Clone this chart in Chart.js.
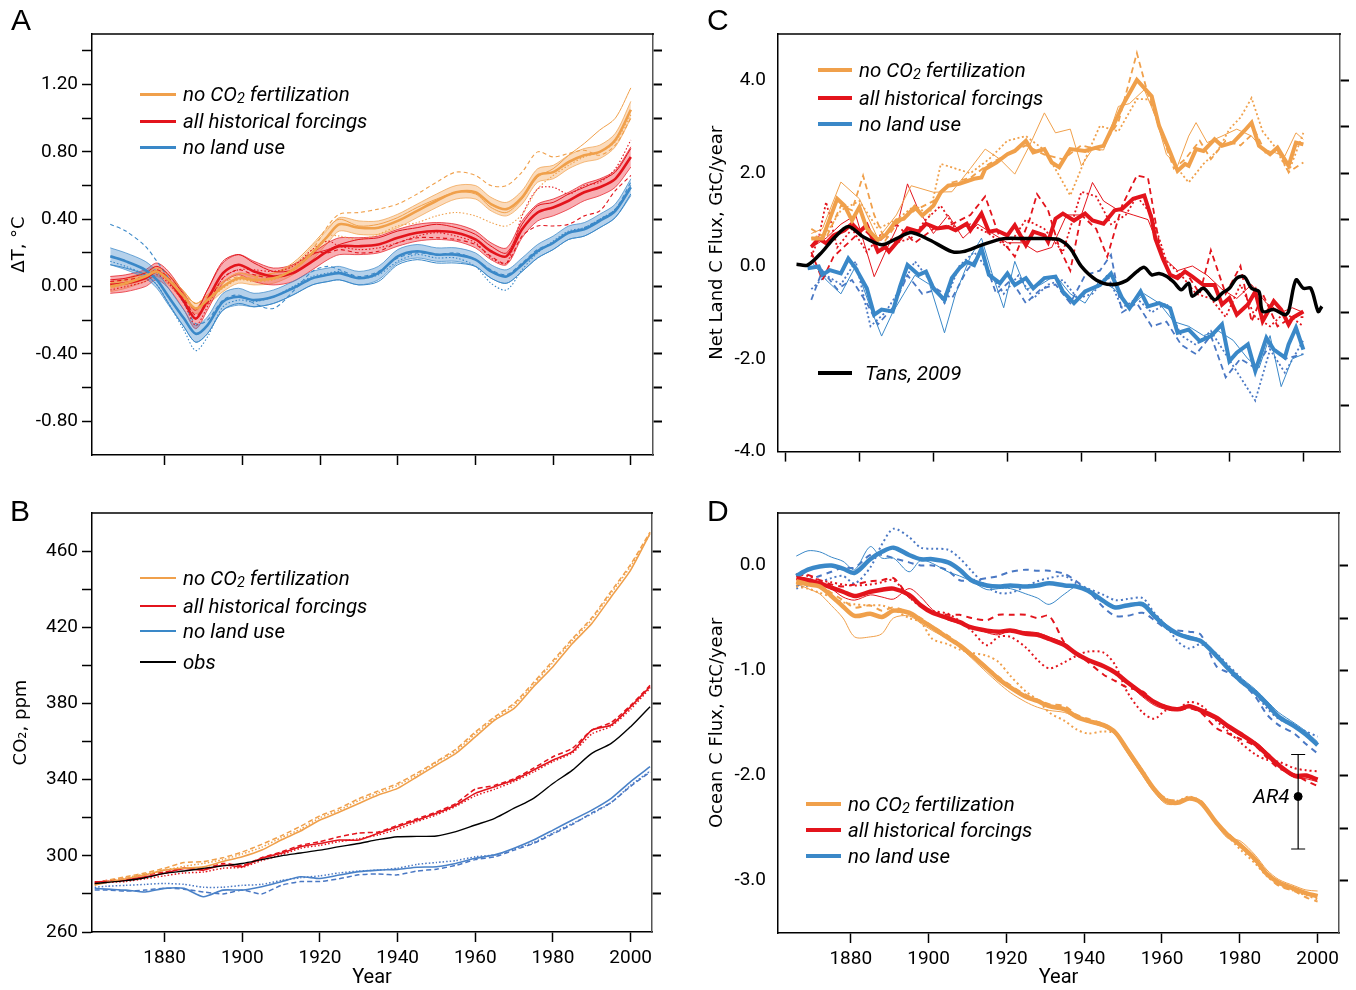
<!DOCTYPE html>
<html>
<head>
<meta charset="utf-8">
<script src="https://cdn.jsdelivr.net/npm/chart.js@4.4.1/dist/chart.umd.min.js"></script>
<style>
  body { margin: 0; background: #fff; width: 1356px; height: 990px; position: relative; overflow: hidden; font-family: Roboto, sans-serif; }
  canvas { position: absolute; }
  .pl { position: absolute; font: 30px/1 'Liberation Sans', Arial, sans-serif; color: #000; }
  .leg { position: absolute; display: flex; align-items: center; height: 24px; font: italic 20.5px Roboto, sans-serif; color: #000; white-space: nowrap; }
  .leg i { display: inline-block; width: 36px; margin-right: 7px; }
  .leg sub { font-size: 70%; vertical-align: -0.15em; line-height: 0; }
</style>
</head>
<body>
<canvas id="chartA" width="678" height="475" style="left:0;top:0"></canvas>
<canvas id="chartB" width="678" height="510" style="left:0;top:480px"></canvas>
<canvas id="chartC" width="666" height="475" style="left:690px;top:0"></canvas>
<canvas id="chartD" width="666" height="510" style="left:690px;top:480px"></canvas>

<div class="pl" style="left:11px;top:5px">A</div>
<div class="pl" style="left:10px;top:496px">B</div>
<div class="pl" style="left:707px;top:5px">C</div>
<div class="pl" style="left:707px;top:496px">D</div>

<div class="leg" style="left:140px;top:82px"><i style="height:3px;background:#F0A04B"></i><span>no CO<sub>2</sub> fertilization</span></div>
<div class="leg" style="left:140px;top:109px"><i style="height:3px;background:#E3141C"></i><span>all historical forcings</span></div>
<div class="leg" style="left:140px;top:135px"><i style="height:3px;background:#3A88C8"></i><span>no land use</span></div>

<div class="leg" style="left:140px;top:566px"><i style="height:2px;background:#F0A04B"></i><span>no CO<sub>2</sub> fertilization</span></div>
<div class="leg" style="left:140px;top:594px"><i style="height:2px;background:#E3141C"></i><span>all historical forcings</span></div>
<div class="leg" style="left:140px;top:619px"><i style="height:2px;background:#3A88C8"></i><span>no land use</span></div>
<div class="leg" style="left:140px;top:650px"><i style="height:2px;background:#000"></i><span>obs</span></div>

<div class="leg" style="left:818px;top:58px"><i style="height:4px;width:34px;background:#F0A04B"></i><span>no CO<sub>2</sub> fertilization</span></div>
<div class="leg" style="left:818px;top:86px"><i style="height:4px;width:34px;background:#E3141C"></i><span>all historical forcings</span></div>
<div class="leg" style="left:818px;top:112px"><i style="height:4px;width:34px;background:#3A88C8"></i><span>no land use</span></div>
<div class="leg" style="left:818px;top:361px"><i style="height:4px;width:34px;margin-right:13px;background:#000"></i><span>Tans, 2009</span></div>

<div class="leg" style="left:806px;top:792px"><i style="height:4px;width:35px;background:#F0A04B"></i><span>no CO<sub>2</sub> fertilization</span></div>
<div class="leg" style="left:806px;top:818px"><i style="height:4px;width:35px;background:#E3141C"></i><span>all historical forcings</span></div>
<div class="leg" style="left:806px;top:844px"><i style="height:4px;width:35px;background:#3A88C8"></i><span>no land use</span></div>
<div class="leg" style="left:1253px;top:784px"><span>AR4</span></div>

<script>
// ---------- colours ----------
const ORANGE = '#F0A04B', RED = '#E3141C', BLUE = '#3A88C8', BLUE2 = '#4A78C4', BLACK = '#000';

// ---------- panel A: temperature change ----------
const yrsA = [1866,1870,1875,1878,1881,1885,1888,1891,1895,1899,1903,1908,1913,1918,1922,1925,1930,1935,1940,1945,1950,1955,1960,1964,1968,1972,1976,1980,1984,1988,1992,1996,2000];
const orangeMainA = [0.00,0.02,0.06,0.09,0.04,-0.06,-0.13,-0.08,0.00,0.05,0.04,0.05,0.10,0.20,0.30,0.37,0.35,0.35,0.39,0.45,0.51,0.56,0.56,0.49,0.46,0.53,0.66,0.68,0.74,0.78,0.80,0.87,1.05];
const orangeSpreadA = [0.03,0.03,0.03,0.03,0.03,0.03,0.03,0.03,0.03,0.03,0.03,0.03,0.03,0.04,0.04,0.04,0.04,0.04,0.04,0.04,0.04,0.04,0.04,0.04,0.04,0.04,0.04,0.04,0.04,0.04,0.04,0.04,0.05];
const orangeThinA = [0.02,0.04,0.08,0.11,0.07,-0.03,-0.10,-0.05,0.03,0.08,0.06,0.08,0.14,0.25,0.35,0.40,0.36,0.37,0.41,0.47,0.52,0.56,0.55,0.47,0.44,0.52,0.65,0.70,0.78,0.85,0.93,1.00,1.18];
const orangeDashA = [0.02,0.03,0.07,0.10,0.05,-0.04,-0.10,-0.06,0.02,0.06,0.05,0.08,0.12,0.22,0.36,0.43,0.44,0.46,0.49,0.55,0.62,0.68,0.66,0.60,0.60,0.68,0.80,0.77,0.79,0.81,0.78,0.84,1.00];
const orangeDotA = [-0.01,0.01,0.05,0.08,0.03,-0.07,-0.14,-0.09,-0.01,0.04,0.03,0.04,0.09,0.20,0.30,0.30,0.28,0.31,0.36,0.38,0.42,0.44,0.42,0.38,0.36,0.43,0.58,0.66,0.72,0.77,0.80,0.86,1.02];
const redMainA = [0.01,0.02,0.05,0.09,0.04,-0.09,-0.19,-0.08,0.08,0.13,0.09,0.06,0.08,0.15,0.21,0.24,0.24,0.25,0.29,0.32,0.33,0.32,0.28,0.21,0.18,0.34,0.44,0.47,0.51,0.56,0.59,0.64,0.77];
const redSpreadA = [0.05,0.05,0.05,0.05,0.05,0.05,0.06,0.06,0.06,0.06,0.06,0.05,0.05,0.05,0.05,0.05,0.05,0.05,0.05,0.05,0.05,0.05,0.05,0.05,0.05,0.05,0.05,0.05,0.05,0.05,0.05,0.05,0.06];
const redThinA = [0.04,0.05,0.08,0.12,0.07,-0.05,-0.14,-0.02,0.15,0.19,0.14,0.09,0.10,0.19,0.22,0.25,0.28,0.29,0.33,0.35,0.37,0.35,0.31,0.24,0.20,0.37,0.48,0.50,0.55,0.59,0.63,0.68,0.82];
const redDashA = [0.03,0.04,0.06,0.10,0.05,-0.07,-0.17,-0.10,0.05,0.10,0.07,0.05,0.10,0.20,0.20,0.22,0.20,0.21,0.26,0.29,0.29,0.28,0.25,0.18,0.14,0.30,0.36,0.36,0.37,0.42,0.45,0.57,0.66];
const redDotA = [-0.02,0.00,0.03,0.07,0.02,-0.10,-0.23,-0.12,0.05,0.10,0.10,0.09,0.12,0.22,0.27,0.24,0.22,0.23,0.26,0.30,0.32,0.30,0.26,0.17,0.14,0.42,0.58,0.59,0.55,0.60,0.62,0.70,0.87];
const blueMainA = [0.18,0.15,0.10,0.04,-0.06,-0.19,-0.28,-0.23,-0.09,-0.06,-0.08,-0.06,-0.01,0.05,0.07,0.08,0.05,0.08,0.18,0.21,0.19,0.19,0.16,0.09,0.06,0.13,0.21,0.26,0.32,0.34,0.39,0.45,0.59];
const blueSpreadA = [0.05,0.05,0.05,0.05,0.05,0.05,0.05,0.05,0.05,0.05,0.04,0.04,0.04,0.04,0.04,0.04,0.04,0.04,0.04,0.04,0.04,0.04,0.04,0.04,0.04,0.04,0.04,0.04,0.04,0.04,0.04,0.04,0.05];
const blueThinA = [0.13,0.11,0.07,0.01,-0.10,-0.24,-0.33,-0.28,-0.14,-0.10,-0.12,-0.10,-0.05,0.01,0.03,0.04,0.01,0.03,0.13,0.16,0.14,0.14,0.12,0.05,0.02,0.09,0.17,0.22,0.28,0.30,0.35,0.41,0.55];
const blueDashA = [0.37,0.33,0.24,0.15,0.05,-0.10,-0.22,-0.20,-0.08,-0.05,-0.10,-0.13,-0.03,0.09,0.12,0.10,0.06,0.09,0.17,0.20,0.19,0.20,0.16,0.10,0.07,0.14,0.22,0.26,0.32,0.35,0.40,0.46,0.62];
const blueDotA = [0.15,0.12,0.07,0.01,-0.10,-0.26,-0.38,-0.30,-0.12,-0.08,-0.09,-0.06,0.00,0.06,0.08,0.09,0.05,0.07,0.15,0.19,0.17,0.17,0.12,0.02,-0.02,0.10,0.20,0.27,0.33,0.35,0.40,0.46,0.60];
const yTicksA = [-0.8,-0.6,-0.4,-0.2,0,0.2,0.4,0.6,0.8,1.0,1.2,1.4];
const yLabelsA = [-0.8,-0.4,0,0.4,0.8,1.2];

// ---------- panel B: CO2 ----------
const yrsB = [1862,1865,1870,1875,1880,1885,1890,1895,1900,1905,1910,1915,1920,1925,1930,1935,1940,1945,1950,1955,1960,1965,1970,1975,1980,1985,1990,1995,2000,2005];
const obsB = [285.5,286,287,288.5,290.8,292,293.4,294.7,296,298,300,301.5,303,304.8,306.5,308.5,310,310.2,310.4,312.7,316.2,319.7,325,330.2,338,345,353.8,359,367.8,378.3];
const orangeB = [284.7,286,288,290,292.5,293.5,294.2,297,299.5,303,308.3,313,318.8,323,327.5,331.9,335.4,341.5,347.7,353.8,362.5,371.3,377.4,388.8,399.3,411.5,422,436,450,469.3];
const orangeDashB = [285,287,289,291,293.5,296.5,297,299,302,306,310.5,315.5,321,325,330,334,338,343.5,349.5,356,365,373,380,391,402.5,414,425,439,453,470];
const orangeDotB = [284.5,286.5,288.5,290.5,292.5,294.5,296,298,301,304.5,309.5,314,320,324,329,333,337,342.5,349,355,364,372,379,390,401.5,413,424,438,452,469];
const redB = [286.4,286.5,287.3,289,290.8,293.4,292.5,295.2,294.3,298.7,301.3,304.8,306.5,308.3,308.3,311.8,315.3,318.8,322.3,326.7,332.8,336.3,339.8,345,350.3,354.7,366,368.7,378.3,388.8];
const redDashB = [286,287,288,290,291.5,293.5,293,296,295,299,302,305.5,307.5,310,312,312.5,316,319.5,323,327.5,335,337,340.5,346,352,356.5,366,370,379,389.5];
const redDotB = [285.5,286,286.5,288,289.5,291,291.5,293.5,294,297.5,300.5,304,305.5,307.5,309,311,314,318,321.5,326,331.5,335,339,344,349.5,354,364,368,377,388];
const blueB = [282.9,282.5,282,281,282.9,282.9,278.5,282,282,283.8,286.4,289,288.1,289.9,291.7,292.5,292.9,294,294.3,296,298.7,300.5,304,308.3,313.5,318.8,324,330.2,339,346.8];
const blueDashB = [282,282,281.5,282,283,282.5,281,280,282,280,284.5,286.5,286.5,288,290,290.5,290,292,293,295,298,299.5,303,306.5,311.5,316.5,322.5,328,336.5,344];
const blueDotB = [283.5,284,284.5,285,285.5,285,283.5,283.5,284.5,285,287,288.5,289.5,291,292,292.5,293.5,295.5,296.5,297.5,299.5,300.5,303.5,307,312,317,322,328,337,344.5];
const yTicksB = [260,280,300,320,340,360,380,400,420,440,460];
const yLabelsB = [260,300,340,380,420,460];

// ---------- panel C: net land flux ----------
const orangeYrsC = [1867,1870,1872,1874,1876,1878,1880,1882,1885,1887,1890,1892,1895,1897,1900,1902,1904,1907,1911,1913,1914,1917,1920,1922,1925,1927,1930,1932,1934,1937,1941,1944,1946,1949,1951,1955,1959,1961,1964,1966,1968,1969,1971,1973,1976,1978,1981,1984,1986,1988,1991,1993,1996,1998,2000];
const orangeMainC = [0.59,0.59,1.02,1.45,1.30,0.98,1.27,0.81,0.56,0.66,0.98,1.02,1.27,1.09,1.30,1.59,1.73,1.77,1.88,1.91,2.09,2.23,2.41,2.48,2.70,2.45,2.52,2.23,2.13,2.52,2.48,2.55,2.59,3.09,3.44,4.01,3.66,3.02,2.45,2.05,2.20,2.16,2.52,2.48,2.73,2.59,2.66,2.91,3.09,2.59,2.41,2.55,2.16,2.66,2.62];
const redYrsC = [1867,1869,1871,1873,1876,1878,1880,1882,1885,1887,1888,1891,1893,1896,1898,1901,1904,1906,1909,1910,1913,1915,1917,1920,1922,1925,1927,1930,1931,1933,1935,1938,1941,1943,1946,1949,1951,1954,1957,1959,1960,1962,1964,1966,1968,1970,1973,1976,1978,1980,1982,1985,1987,1989,1992,1994,1996,1997,2000];
const redMainC = [0.41,0.59,0.49,0.66,0.77,0.91,0.74,0.88,0.31,0.41,0.31,0.59,0.81,0.74,0.91,0.81,0.84,0.77,0.91,0.77,1.13,0.74,0.77,0.66,0.88,0.45,0.74,0.66,0.52,1.02,1.13,0.98,1.13,0.98,0.91,1.20,1.23,1.45,1.52,1.02,0.59,0.16,-0.19,-0.26,-0.12,-0.23,-0.41,-0.41,-0.83,-0.69,-1.05,-0.83,-0.55,-1.19,-0.76,-0.94,-1.26,-1.12,-0.98];
const blueYrsC = [1866,1869,1870,1872,1875,1877,1879,1882,1884,1886,1889,1891,1893,1896,1898,1900,1903,1905,1907,1909,1911,1913,1915,1918,1920,1922,1925,1927,1930,1933,1935,1938,1941,1945,1948,1951,1953,1956,1958,1961,1964,1966,1969,1972,1975,1978,1980,1982,1985,1987,1990,1992,1995,1996,1998,2000];
const blueMainC = [-0.05,-0.01,-0.19,-0.09,-0.16,0.16,-0.05,-0.48,-1.05,-0.94,-0.98,-0.44,0.02,-0.19,-0.12,-0.48,-0.73,-0.26,-0.05,0.09,0.02,0.38,-0.19,-0.37,-0.16,-0.41,-0.26,-0.48,-0.26,-0.23,-0.55,-0.80,-0.55,-0.41,-0.16,-0.69,-0.91,-0.55,-0.87,-0.80,-0.91,-1.44,-1.37,-1.62,-1.51,-1.26,-2.05,-1.87,-1.69,-2.26,-1.55,-1.80,-1.97,-1.69,-1.33,-1.80];
const tansYrs = [1863,1866,1870,1873,1877,1881,1886,1890,1894,1899,1905,1908,1913,1919,1925,1931,1934,1937,1940,1944,1948,1952,1955,1957,1959,1961,1963,1965,1967,1969,1970,1973,1976,1978,1980,1982,1984,1986,1988,1989,1992,1995,1996,1998,2000,2002,2004,2005];
const tansC = [0.04,0.02,0.31,0.59,0.85,0.63,0.46,0.59,0.72,0.56,0.31,0.31,0.45,0.59,0.59,0.59,0.57,0.38,-0.01,-0.30,-0.40,-0.32,-0.12,-0.03,-0.19,-0.16,-0.22,-0.35,-0.51,-0.37,-0.65,-0.48,-0.73,-0.59,-0.48,-0.26,-0.23,-0.48,-0.55,-0.98,-0.94,-1.05,-0.98,-0.30,-0.48,-0.48,-0.98,-0.87];
const orangeThinYrsC = [1867,1870,1875,1880,1885,1890,1894,1900,1905,1910,1914,1918,1922,1926,1930,1933,1937,1940,1943,1946,1950,1953,1957,1960,1963,1966,1969,1971,1974,1978,1982,1986,1989,1992,1995,1998,2000];
const orangeThinC = [0.70,0.80,1.81,1.45,0.59,1.10,1.73,1.59,1.60,2.10,2.52,2.30,1.98,2.60,3.30,2.87,2.95,2.16,2.52,2.50,3.44,3.50,3.80,3.23,2.40,2.16,2.80,3.09,2.66,2.80,2.95,2.80,2.52,2.45,2.37,2.87,2.73];
const orangeDashYrsC = [1867,1871,1875,1878,1881,1884,1887,1890,1895,1900,1905,1910,1915,1920,1925,1930,1935,1940,1945,1950,1955,1958,1961,1965,1968,1972,1975,1979,1983,1987,1990,1993,1996,2000];
const orangeDashC = [0.80,0.60,1.30,1.20,1.95,1.10,0.55,0.90,1.20,1.40,1.80,1.90,2.20,2.40,2.60,2.40,2.30,2.60,2.50,3.10,4.59,3.70,3.00,2.10,2.30,2.70,2.30,2.70,2.60,2.90,2.40,2.50,2.02,2.23];
const orangeDotYrsC = [1867,1871,1875,1880,1885,1890,1895,1899,1902,1906,1910,1915,1920,1925,1930,1934,1937,1941,1945,1950,1955,1959,1962,1965,1969,1973,1977,1980,1983,1986,1989,1992,1996,2000];
const orangeDotC = [0.60,0.70,1.20,1.40,0.80,1.00,1.30,1.10,2.20,2.10,2.00,2.30,2.70,2.80,2.50,1.95,1.52,2.30,3.02,2.90,3.60,3.59,2.80,2.20,1.80,2.20,2.50,2.95,3.20,3.62,2.90,2.60,2.02,2.87];
const redThinYrsC = [1867,1871,1875,1879,1884,1887,1890,1893,1896,1900,1904,1908,1912,1916,1920,1924,1928,1932,1936,1940,1943,1946,1950,1954,1958,1962,1966,1970,1974,1978,1982,1986,1990,1994,1997,2000];
const redThinC = [0.40,0.60,0.90,1.10,-0.23,0.30,0.80,1.77,1.20,0.70,1.10,0.60,0.90,0.70,0.50,0.50,0.30,0.40,1.10,1.10,1.80,1.40,1.20,1.10,1.00,0.20,-0.10,0.00,-0.20,-0.50,-0.70,-0.40,-0.80,-1.00,-0.90,-1.00];
const redDashYrsC = [1867,1870,1873,1877,1881,1885,1890,1895,1900,1905,1910,1914,1918,1922,1926,1928,1931,1934,1937,1940,1944,1947,1951,1955,1958,1961,1964,1968,1972,1975,1979,1983,1986,1989,1993,1997,2000];
const redDashC = [0.30,-0.30,0.20,0.50,0.80,0.50,0.90,0.50,0.80,0.90,1.10,1.50,0.60,0.20,1.00,1.55,1.20,0.40,-0.10,1.10,0.80,0.20,1.30,1.95,1.90,0.50,-0.30,-0.10,-0.60,0.34,-0.60,0.00,-1.20,-0.60,-1.30,-1.10,-1.10];
const redDotYrsC = [1867,1869,1871,1874,1878,1882,1886,1890,1894,1898,1902,1906,1910,1915,1920,1925,1930,1935,1940,1944,1948,1952,1955,1959,1963,1967,1971,1975,1979,1983,1987,1991,1995,2000];
const redDotC = [0.20,0.60,1.38,0.40,0.80,0.30,0.70,0.50,0.60,1.00,1.30,0.80,0.90,0.70,0.40,1.00,0.80,0.30,1.60,1.50,0.90,1.10,1.50,1.10,0.10,-0.20,-0.60,-0.70,-1.10,-0.40,-1.10,-1.30,-1.00,-1.30];
const blueThinYrsC = [1867,1871,1875,1879,1883,1886,1889,1892,1895,1899,1903,1906,1910,1913,1916,1919,1922,1925,1929,1933,1937,1941,1945,1949,1953,1957,1961,1965,1969,1973,1977,1981,1985,1988,1991,1994,1997,2000];
const blueThinC = [0.10,-0.30,-0.60,0.00,-0.90,-1.51,-1.00,-0.60,-0.20,-0.40,-1.44,-0.60,0.20,0.60,-0.20,-0.90,0.10,-0.50,-0.40,-0.20,-0.60,-0.80,-0.30,-0.50,-0.90,-0.60,-0.80,-1.20,-1.30,-1.50,-1.40,-1.60,-2.00,-2.20,-1.50,-2.60,-2.00,-1.90];
const blueDashYrsC = [1867,1870,1874,1878,1882,1885,1889,1893,1897,1901,1905,1909,1913,1917,1921,1925,1929,1933,1937,1941,1945,1948,1951,1955,1959,1963,1967,1971,1975,1979,1983,1987,1991,1995,2000];
const blueDashC = [-0.73,-0.10,-0.50,-0.30,-0.80,-1.26,-0.90,-0.20,-0.60,-0.50,-0.70,-0.10,0.30,-0.60,-0.30,-0.80,-0.50,-0.40,-0.80,-0.20,-0.10,0.24,-1.00,-0.80,-1.30,-1.20,-1.70,-1.90,-1.50,-2.40,-2.00,-2.20,-1.70,-2.00,-1.90];
const blueDotYrsC = [1867,1871,1875,1879,1883,1887,1891,1895,1899,1903,1907,1911,1915,1919,1923,1927,1931,1935,1939,1943,1947,1951,1955,1959,1963,1967,1971,1975,1979,1983,1987,1991,1995,2000];
const blueDotC = [-0.50,-0.20,-0.40,0.10,-1.30,-1.00,-0.50,0.10,-0.30,-0.80,0.00,0.30,-0.10,-0.60,-0.20,-0.70,-0.40,-0.30,-0.70,-0.60,-0.20,-0.90,-0.70,-1.00,-0.80,-1.50,-1.70,-1.40,-1.90,-2.40,-2.90,-1.80,-2.30,-1.60];
const yTicksRightC = [-3,-2,-1,0,1,2,3,4];
const yLabelsC = [-4,-2,0,2,4];

// ---------- panel D: ocean flux ----------
const yrsD = [1866,1869,1872,1875,1878,1881,1885,1888,1891,1895,1898,1901,1905,1908,1911,1915,1918,1921,1925,1928,1931,1935,1938,1941,1945,1948,1951,1955,1958,1961,1964,1967,1970,1974,1977,1980,1984,1987,1990,1994,1997,2000];
const orangeMainD = [-0.15,-0.18,-0.20,-0.29,-0.39,-0.48,-0.46,-0.49,-0.43,-0.45,-0.52,-0.59,-0.69,-0.76,-0.85,-0.98,-1.08,-1.16,-1.25,-1.29,-1.34,-1.37,-1.44,-1.48,-1.52,-1.59,-1.75,-1.97,-2.13,-2.24,-2.26,-2.22,-2.26,-2.45,-2.57,-2.66,-2.80,-2.94,-3.02,-3.08,-3.12,-3.15];
const orangeThinD = [-0.17,-0.22,-0.27,-0.38,-0.50,-0.68,-0.68,-0.65,-0.50,-0.48,-0.55,-0.62,-0.70,-0.78,-0.88,-1.02,-1.12,-1.21,-1.30,-1.35,-1.38,-1.40,-1.45,-1.49,-1.54,-1.61,-1.78,-2.00,-2.16,-2.27,-2.27,-2.22,-2.27,-2.47,-2.60,-2.62,-2.76,-2.90,-2.99,-3.05,-3.09,-3.10];
const orangeDashD = [-0.18,-0.17,-0.19,-0.26,-0.33,-0.40,-0.38,-0.43,-0.40,-0.45,-0.50,-0.58,-0.67,-0.75,-0.84,-0.97,-1.06,-1.14,-1.23,-1.28,-1.32,-1.34,-1.42,-1.46,-1.51,-1.58,-1.74,-1.96,-2.12,-2.22,-2.24,-2.22,-2.24,-2.45,-2.55,-2.66,-2.82,-2.95,-3.05,-3.10,-3.16,-3.20];
const orangeDotD = [-0.20,-0.22,-0.26,-0.30,-0.35,-0.37,-0.38,-0.38,-0.42,-0.50,-0.54,-0.70,-0.75,-0.80,-0.83,-0.86,-0.92,-1.05,-1.20,-1.28,-1.40,-1.48,-1.56,-1.60,-1.58,-1.60,-1.75,-1.95,-2.12,-2.22,-2.24,-2.20,-2.25,-2.46,-2.58,-2.70,-2.84,-2.96,-3.04,-3.10,-3.14,-3.18];
const redMainD = [-0.12,-0.14,-0.17,-0.21,-0.25,-0.29,-0.25,-0.23,-0.22,-0.28,-0.38,-0.45,-0.50,-0.54,-0.59,-0.62,-0.63,-0.62,-0.65,-0.66,-0.70,-0.76,-0.84,-0.90,-0.96,-1.02,-1.11,-1.22,-1.30,-1.35,-1.37,-1.34,-1.38,-1.45,-1.53,-1.60,-1.70,-1.80,-1.90,-2.00,-2.00,-2.04];
const redThinD = [-0.10,-0.13,-0.16,-0.22,-0.30,-0.33,-0.28,-0.30,-0.32,-0.22,-0.30,-0.42,-0.52,-0.55,-0.58,-0.64,-0.66,-0.62,-0.63,-0.64,-0.68,-0.74,-0.83,-0.90,-0.97,-1.03,-1.12,-1.25,-1.33,-1.37,-1.38,-1.33,-1.40,-1.47,-1.55,-1.62,-1.68,-1.78,-1.91,-2.02,-2.03,-2.06];
const redDashD = [-0.10,-0.09,-0.14,-0.18,-0.20,-0.18,-0.15,-0.14,-0.12,-0.30,-0.38,-0.44,-0.47,-0.47,-0.50,-0.52,-0.47,-0.47,-0.47,-0.50,-0.48,-0.74,-0.85,-0.92,-1.04,-1.10,-1.16,-1.20,-1.30,-1.34,-1.38,-1.36,-1.40,-1.55,-1.60,-1.65,-1.72,-1.83,-1.93,-1.99,-2.05,-2.10];
const redDotD = [-0.08,-0.10,-0.14,-0.16,-0.18,-0.19,-0.18,-0.16,-0.14,-0.30,-0.39,-0.43,-0.46,-0.53,-0.62,-0.76,-0.68,-0.68,-0.78,-0.90,-0.98,-0.92,-0.86,-0.82,-0.83,-0.95,-1.20,-1.40,-1.46,-1.38,-1.37,-1.30,-1.33,-1.48,-1.58,-1.68,-1.80,-1.85,-1.87,-1.93,-1.95,-1.96];
const blueMainD = [-0.10,-0.04,-0.01,0.00,-0.03,-0.07,0.06,0.13,0.17,0.10,0.06,0.06,0.03,-0.04,-0.14,-0.19,-0.20,-0.19,-0.20,-0.19,-0.17,-0.19,-0.20,-0.24,-0.34,-0.40,-0.38,-0.37,-0.48,-0.58,-0.65,-0.69,-0.72,-0.86,-0.98,-1.09,-1.21,-1.32,-1.44,-1.53,-1.61,-1.71];
const blueThinD = [0.09,0.14,0.13,0.08,0.04,-0.04,0.18,0.07,0.07,-0.06,0.05,0.02,-0.06,-0.10,-0.15,-0.23,-0.22,-0.22,-0.27,-0.31,-0.37,-0.27,-0.20,-0.23,-0.33,-0.39,-0.38,-0.35,-0.46,-0.56,-0.64,-0.67,-0.71,-0.84,-0.96,-1.06,-1.18,-1.29,-1.40,-1.50,-1.58,-1.68];
const blueDashD = [-0.20,-0.14,-0.10,-0.06,-0.02,-0.02,0.10,0.10,0.07,0.03,0.00,0.00,-0.05,-0.14,-0.14,-0.12,-0.10,-0.06,-0.04,-0.05,-0.05,-0.08,-0.15,-0.24,-0.40,-0.48,-0.48,-0.45,-0.52,-0.60,-0.62,-0.63,-0.66,-0.96,-1.02,-1.10,-1.25,-1.42,-1.52,-1.60,-1.70,-1.79];
const blueDotD = [-0.22,-0.19,-0.16,-0.12,-0.10,-0.17,-0.02,0.20,0.35,0.27,0.17,0.16,0.15,0.07,-0.05,-0.20,-0.26,-0.26,-0.20,-0.15,-0.12,-0.10,-0.17,-0.22,-0.28,-0.33,-0.32,-0.31,-0.45,-0.57,-0.72,-0.79,-0.75,-0.84,-0.95,-1.06,-1.22,-1.36,-1.46,-1.53,-1.58,-1.63];
const ar4Year = 1995, ar4Value = -2.2, ar4Low = -2.7, ar4High = -1.8;
const yTicksRightD = [-3,-2.5,-2,-1.5,-1,-0.5,0];
const yLabelsD = [-3,-2,-1,0];

const xTicks20 = [1880,1900,1920,1940,1960,1980,2000];
const xTicksC = [1860,1880,1900,1920,1940,1960,1980,2000];

// ---------- helpers ----------
function pts(xs, ys) {
    return xs.map((x, i) => ({x: x, y: ys[i]}));
}

function line(xs, ys, color, width, dash, order, tension) {
    return {
        data: pts(xs, ys), borderColor: color, borderWidth: width, borderDash: dash,
        pointRadius: 0, fill: false, tension: tension, order: order
    };
}

// band = shaded range around a model mean; upper fills down to the next dataset
function band(xs, mid, spread, fillColor, edgeColor, order) {
    return [
        {data: xs.map((x, i) => ({x: x, y: mid[i] + spread[i]})), borderColor: edgeColor, borderWidth: 0.8,
         backgroundColor: fillColor, fill: '+1', pointRadius: 0, tension: 0.3, order: order},
        {data: xs.map((x, i) => ({x: x, y: mid[i] - spread[i]})), borderColor: edgeColor, borderWidth: 0.8,
         fill: false, pointRadius: 0, tension: 0.3, order: order}
    ];
}

const topLine = {
    id: 'topLine',
    afterDraw(chart) {
        const {ctx, chartArea: a} = chart;
        ctx.save();
        ctx.strokeStyle = '#000';
        ctx.lineWidth = 1.5;
        ctx.beginPath();
        ctx.moveTo(a.left - 1, a.top);
        ctx.lineTo(a.right + 1, a.top);
        ctx.stroke();
        ctx.restore();
    }
};

const ar4Caps = {
    id: 'ar4Caps',
    afterDatasetsDraw(chart) {
        if (chart.canvas.id !== 'chartD') return;
        const {ctx, scales: {x, y}} = chart;
        const px = x.getPixelForValue(ar4Year);
        ctx.save();
        ctx.strokeStyle = '#000';
        ctx.lineWidth = 1.2;
        ctx.beginPath();
        [ar4High, ar4Low].forEach(v => {
            const py = y.getPixelForValue(v);
            ctx.moveTo(px - 7, py);
            ctx.lineTo(px + 7, py);
        });
        ctx.stroke();
        ctx.restore();
    }
};

function makePanel(id, area, cfg) {
    const cv = document.getElementById(id);
    const W = cv.width, H = cv.height;
    const tickFont = {family: 'Roboto', size: 19};
    const titleFont = {family: "'DejaVu Sans'", size: 18};
    const scales = {
        x: {
            type: 'linear', min: cfg.xMin, max: cfg.xMax,
            afterBuildTicks: s => { s.ticks = cfg.xTicks.map(v => ({value: v})); },
            afterFit: s => { s.height = H - area.bottom; },
            grid: {drawOnChartArea: false, drawTicks: true, tickLength: 10, tickColor: '#000', tickWidth: 1.5},
            border: {display: true, color: '#000', width: 1.5},
            ticks: {display: cfg.xLabels, color: '#000', font: tickFont, padding: 5, maxRotation: 0, autoSkip: false,
                    callback: v => String(v)},
            title: {display: cfg.xLabels, text: 'Year', color: '#000', font: {family: 'Roboto', size: 20},
                    padding: {top: 0, bottom: 0}}
        },
        y: {
            position: 'left', min: cfg.yMin, max: cfg.yMax,
            afterBuildTicks: s => { s.ticks = cfg.yLeftTicks.map(v => ({value: v})); },
            afterFit: s => { s.width = area.left; },
            grid: {drawOnChartArea: false, drawTicks: cfg.leftTickMarks, tickLength: 10, tickColor: '#000', tickWidth: 1.5},
            border: {display: true, color: '#000', width: 1.5},
            ticks: {color: '#000', font: tickFont, padding: cfg.leftPad,
                    callback: v => cfg.yLabels.includes(v) ? v.toFixed(cfg.digits) : ''},
            title: {display: true, text: cfg.yTitle, color: '#000', font: titleFont,
                    padding: {top: cfg.titlePad, bottom: 0}}
        },
        yr: {
            position: 'right', min: cfg.yMin, max: cfg.yMax,
            afterBuildTicks: s => { s.ticks = cfg.yRightTicks.map(v => ({value: v})); },
            afterFit: s => { s.width = W - area.right; },
            grid: {drawOnChartArea: false, drawTicks: true, tickLength: 9, tickColor: '#000', tickWidth: 2},
            border: {display: true, color: '#555', width: 1.5},
            ticks: {display: false}
        }
    };
    new Chart(cv, {
        type: 'line',
        data: {datasets: cfg.datasets},
        options: {
            responsive: false, animation: false, devicePixelRatio: 1, events: [],
            layout: {padding: {top: area.top, left: 0, right: 0, bottom: 0}},
            plugins: {legend: {display: false}, tooltip: {enabled: false}},
            scales: scales
        },
        plugins: [topLine, ar4Caps]
    });
}

// ---------- panel A ----------
makePanel('chartA', {left: 92, right: 653, top: 34, bottom: 455}, {
    xMin: 1861.3, xMax: 2005.7, xTicks: xTicks20, xLabels: false,
    yMin: -1.0, yMax: 1.5, yLeftTicks: yTicksA, yRightTicks: yTicksA, yLabels: yLabelsA, digits: 2,
    leftTickMarks: true, leftPad: 4, yTitle: 'ΔT, °C', titlePad: 9,
    datasets: [
        ...band(yrsA, orangeMainA, orangeSpreadA, 'rgba(245,170,95,0.42)', 'rgba(240,160,75,0.9)', 6),
        ...band(yrsA, redMainA, redSpreadA, 'rgba(238,70,80,0.44)', 'rgba(227,20,28,0.9)', 5),
        ...band(yrsA, blueMainA, blueSpreadA, 'rgba(70,140,205,0.40)', 'rgba(58,136,200,0.9)', 4),
        line(yrsA, orangeThinA, ORANGE, 1, [], 3, 0.3),
        line(yrsA, orangeDashA, ORANGE, 1.1, [4, 3], 3, 0.3),
        line(yrsA, orangeDotA, ORANGE, 1.1, [1.5, 2], 3, 0.3),
        line(yrsA, redThinA, RED, 1, [], 2, 0.3),
        line(yrsA, redDashA, RED, 1.1, [4, 3], 2, 0.3),
        line(yrsA, redDotA, RED, 1.1, [1.5, 2], 2, 0.3),
        line(yrsA, blueThinA, BLUE, 1, [], 2, 0.3),
        line(yrsA, blueDashA, BLUE, 1.1, [4, 3], 2, 0.3),
        line(yrsA, blueDotA, BLUE, 1.1, [1.5, 2], 2, 0.3),
        line(yrsA, orangeMainA, ORANGE, 2.6, [], 1, 0.3),
        line(yrsA, redMainA, RED, 2.6, [], 1, 0.3),
        line(yrsA, blueMainA, BLUE, 2.6, [], 1, 0.3)
    ]
});

// ---------- panel B ----------
makePanel('chartB', {left: 92, right: 652, top: 33, bottom: 452}, {
    xMin: 1861.3, xMax: 2005.5, xTicks: xTicks20, xLabels: true,
    yMin: 260, yMax: 480, yLeftTicks: yTicksB, yRightTicks: yTicksB.slice(1), yLabels: yLabelsB, digits: 0,
    leftTickMarks: true, leftPad: 4, yTitle: 'CO₂, ppm', titlePad: 11,
    datasets: [
        line(yrsB, orangeDashB, ORANGE, 1.5, [5, 3], 2, 0.2),
        line(yrsB, orangeDotB, ORANGE, 1.5, [1.5, 2], 2, 0.2),
        line(yrsB, redDashB, RED, 1.5, [5, 3], 2, 0.2),
        line(yrsB, redDotB, RED, 1.5, [1.5, 2], 2, 0.2),
        line(yrsB, blueDashB, BLUE2, 1.5, [5, 3], 2, 0.2),
        line(yrsB, blueDotB, BLUE2, 1.5, [1.5, 2], 2, 0.2),
        line(yrsB, orangeB, ORANGE, 1.6, [], 1, 0.2),
        line(yrsB, redB, RED, 1.6, [], 1, 0.2),
        line(yrsB, blueB, '#4A82C8', 1.6, [], 1, 0.2),
        line(yrsB, obsB, BLACK, 1.4, [], 0, 0.3)
    ]
});

// ---------- panel C ----------
makePanel('chartC', {left: 88, right: 650, top: 34, bottom: 455}, {
    xMin: 1858.0, xMax: 2009.9, xTicks: xTicksC, xLabels: false,
    yMin: -4, yMax: 5, yLeftTicks: yLabelsC, yRightTicks: yTicksRightC, yLabels: yLabelsC, digits: 1,
    leftTickMarks: false, leftPad: 12, yTitle: 'Net Land C Flux, GtC/year', titlePad: 17,
    datasets: [
        line(orangeThinYrsC, orangeThinC, ORANGE, 1, [], 3, 0),
        line(orangeDashYrsC, orangeDashC, ORANGE, 1.8, [6, 4], 3, 0),
        line(orangeDotYrsC, orangeDotC, ORANGE, 1.8, [2, 2.5], 3, 0),
        line(redThinYrsC, redThinC, RED, 1, [], 3, 0),
        line(redDashYrsC, redDashC, RED, 1.8, [6, 4], 3, 0),
        line(redDotYrsC, redDotC, RED, 1.8, [2, 2.5], 3, 0),
        line(blueThinYrsC, blueThinC, BLUE, 1, [], 3, 0),
        line(blueDashYrsC, blueDashC, BLUE2, 1.8, [6, 4], 3, 0),
        line(blueDotYrsC, blueDotC, BLUE2, 1.8, [2, 2.5], 3, 0),
        line(orangeYrsC, orangeMainC, ORANGE, 4, [], 1, 0),
        line(redYrsC, redMainC, RED, 4, [], 1, 0),
        line(blueYrsC, blueMainC, BLUE, 4, [], 1, 0),
        line(tansYrs, tansC, BLACK, 3.5, [], 0, 0.3)
    ]
});

// ---------- panel D ----------
makePanel('chartD', {left: 88, right: 649, top: 33, bottom: 453}, {
    xMin: 1861.3, xMax: 2005.5, xTicks: xTicks20, xLabels: true,
    yMin: -3.5, yMax: 0.5, yLeftTicks: yLabelsD, yRightTicks: yTicksRightD, yLabels: yLabelsD, digits: 1,
    leftTickMarks: false, leftPad: 12, yTitle: 'Ocean C Flux, GtC/year', titlePad: 17,
    datasets: [
        line(yrsD, orangeThinD, ORANGE, 1, [], 3, 0.3),
        line(yrsD, orangeDashD, ORANGE, 2, [6, 5], 3, 0.3),
        line(yrsD, orangeDotD, ORANGE, 2, [2, 3], 3, 0.3),
        line(yrsD, redThinD, RED, 1, [], 3, 0.3),
        line(yrsD, redDashD, RED, 2, [6, 5], 3, 0.3),
        line(yrsD, redDotD, RED, 2, [2, 3], 3, 0.3),
        line(yrsD, blueThinD, BLUE, 1, [], 3, 0.3),
        line(yrsD, blueDashD, BLUE2, 2, [6, 5], 3, 0.3),
        line(yrsD, blueDotD, BLUE2, 2, [2, 3], 3, 0.3),
        line(yrsD, orangeMainD, ORANGE, 4.5, [], 1, 0.3),
        line(yrsD, redMainD, RED, 4.5, [], 1, 0.3),
        line(yrsD, blueMainD, BLUE, 4.5, [], 1, 0.3),
        line([ar4Year, ar4Year], [ar4High, ar4Low], BLACK, 1.2, [], 0, 0),
        {data: [{x: ar4Year, y: ar4Value}], showLine: false, pointRadius: 4, pointBackgroundColor: '#000',
         pointBorderColor: '#000', order: 0}
    ]
});
</script>
</body>
</html>
